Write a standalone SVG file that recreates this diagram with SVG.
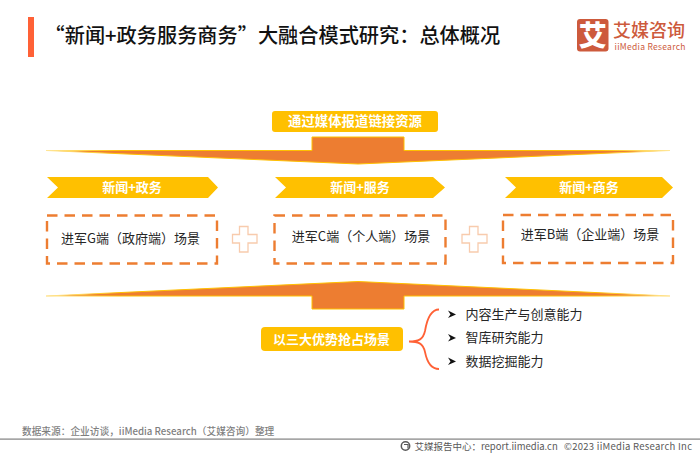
<svg xmlns="http://www.w3.org/2000/svg" width="700" height="455" viewBox="0 0 700 455">
<style>
text{font-family:"Noto Sans CJK SC","Noto Sans",sans-serif}
.chev{fill:#FFC000}
.wl{fill:#fff;font-weight:700;font-size:13px;text-anchor:middle}
.dash{fill:none;stroke:#ED7D31;stroke-width:2.4;stroke-dasharray:10.500 7}
.dt{fill:#262626;font-size:13px;text-anchor:middle}
.plus{fill:#fff;stroke:#F8CBAD;stroke-width:1.3}
.arrow{fill:#ED7D31;stroke:url(#edge);stroke-width:1}
.it{fill:#262626;font-size:13px}
.bul{fill:#111}
</style>
<defs>
<linearGradient id="edge" gradientUnits="userSpaceOnUse" x1="46" y1="0" x2="670" y2="0"><stop offset="0" stop-color="#FFE699"/><stop offset=".12" stop-color="#FFC000"/><stop offset=".88" stop-color="#FFC000"/><stop offset="1" stop-color="#FFE699"/></linearGradient>
</defs>
<rect width="700" height="455" fill="#fff"/>
<g id="title">
<rect x="28" y="17" width="6" height="40" fill="#FF6136"/>
<text x="44.500" y="43" font-size="20.200" font-weight="500" fill="#111">“新闻+政务服务商务”大融合模式研究：总体概况</text>
</g>
<g id="logo">
<rect x="577" y="19" width="31.500" height="32.500" rx="3" fill="#CD5A3C"/>
<text x="592.700" y="46" font-size="28" font-weight="900" fill="#fff" text-anchor="middle">艾</text>
<text x="613" y="36.500" font-size="18" font-weight="500" fill="#CD5A3C">艾媒咨询</text>
<text x="614.500" y="50" font-size="8.500" fill="#CD5A3C" font-family="Noto Sans" textLength="71">iiMedia Research</text>
</g>
<g id="connectors">
<path class="arrow" d="M46 150.500H312V137H404V150.500H670L358 164Z"/>
<path class="arrow" d="M46 296H312V309H404V296H670L358 281.500Z"/>
<path d="M409 341.500C418 341.500 423 340 425 331C427 319 431 309.500 439 309.500M409 341.500C418 341.500 423 343 425 352C427 362 431 369 439 369" fill="none" stroke="#FF6136" stroke-width="1.800"/>
</g>
<g id="top-label">
<rect x="272" y="111" width="166" height="21" rx="3" fill="#FFC000"/>
<text class="wl" x="355" y="126" style="font-size:13.400px">通过媒体报道链接资源</text>
</g>
<g id="chevron-gov">
<path class="chev" d="M47 177H208L218 187.500L208 198H47L58 187.500Z"/>
<text class="wl" x="132" y="192">新闻+政务</text>
</g>
<g id="chevron-service">
<path class="chev" d="M275 177H433L445 187.500L433 198H275L286 187.500Z"/>
<text class="wl" x="360" y="192">新闻+服务</text>
</g>
<g id="chevron-business">
<path class="chev" d="M505 177H662L673 187.500L662 198H505L516 187.500Z"/>
<text class="wl" x="589" y="192">新闻+商务</text>
</g>
<g id="box-g">
<rect class="dash" x="47" y="215.500" width="170" height="48"/>
<text class="dt" x="130.500" y="242.500">进军G端（政府端）场景</text>
</g>
<g id="plus-1"><path class="plus" d="M239.500 226.500H248V234.500H257V243H248V252H239.500V243H232.500V234.500H239.500Z"/></g>
<g id="box-c">
<rect class="dash" x="274.500" y="215.500" width="171" height="48"/>
<text class="dt" x="361" y="241">进军C端（个人端）场景</text>
</g>
<g id="plus-2"><path class="plus" d="M469.500 226.500H478V234.500H487V243H478V252H469.500V243H462V234.500H469.500Z"/></g>
<g id="box-b">
<rect class="dash" x="503" y="215" width="170" height="48"/>
<text class="dt" x="590" y="238.500">进军B端（企业端）场景</text>
</g>
<g id="bottom-label">
<rect x="261" y="327" width="142" height="24" rx="4" fill="#FFC000"/>
<text class="wl" x="331.500" y="344">以三大优势抢占场景</text>
</g>
<g id="item-1">
<path class="bul" d="M448 310.500L456 314.500L448 318L450.500 314.500Z"/>
<text class="it" x="465.500" y="318.500">内容生产与创意能力</text>
</g>
<g id="item-2">
<path class="bul" d="M448 334L456 338L448 341.500L450.500 338Z"/>
<text class="it" x="465.500" y="342">智库研究能力</text>
</g>
<g id="item-3">
<path class="bul" d="M448 357.500L456 361.500L448 365L450.500 361.500Z"/>
<text class="it" x="465.500" y="366">数据挖掘能力</text>
</g>
<g id="footer">
<rect x="0" y="438.500" width="700" height="1.200" fill="#808080"/>
<text x="22" y="435" font-size="9.700" font-weight="500" fill="#7F7F7F">数据来源：企业访谈，iiMedia Research（艾媒咨询）整理</text>
<circle cx="405.500" cy="446" r="4.200" fill="none" stroke="#595959" stroke-width="1.500"/>
<path d="M404 444.500h4v4" fill="none" stroke="#595959" stroke-width="1.200"/>
<text x="414.500" y="449.500" font-size="9.500" fill="#595959">艾媒报告中心：report.iimedia.cn</text>
<text x="564" y="449.500" font-size="9.500" fill="#595959" textLength="128">©2023  iiMedia Research  Inc</text>
</g>
</svg>
